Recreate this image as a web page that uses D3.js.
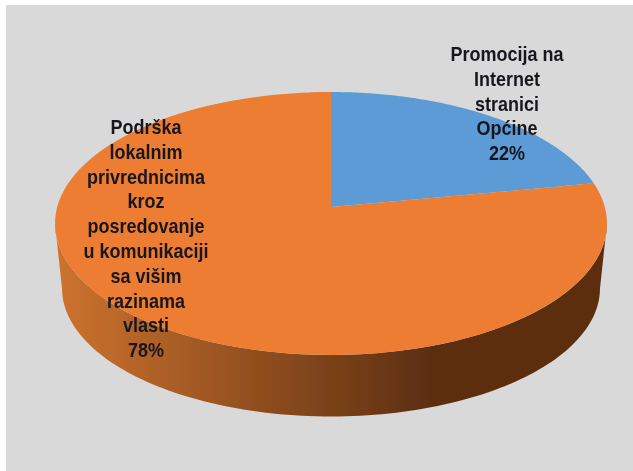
<!DOCTYPE html>
<meta charset="utf-8">
<style>
  html, body { margin: 0; background: #ffffff; }
  svg { display: block; }
  text { font-family: "Liberation Sans", sans-serif; font-size: 20px; font-weight: bold; fill: #17171f; text-anchor: middle; }
</style>
<script src="https://d3js.org/d3.v7.min.js"></script>
<div id="chart"></div>
<script>
// values
var categories = ["Promocija na Internet stranici Općine", "Podrška lokalnim privrednicima kroz posredovanje u komunikaciji sa višim razinama vlasti"];
var shares = [22, 78];
var colors = ["#5b9bd5", "#ed7d31"];
var labelLines = [
  ["Promocija na", "Internet", "stranici", "Općine"],
  ["Podrška", "lokalnim", "privrednicima", "kroz", "posredovanje", "u komunikaciji", "sa višim", "razinama", "vlasti"]
];

var width = 633, height = 471;

var svg = d3.select("#chart").append("svg")
  .attr("width", width)
  .attr("height", height);

var defs = svg.append("defs");

// the reference is a soft screenshot, so everything gets a little blur
defs.append("filter").attr("id", "soft")
  .append("feGaussianBlur").attr("stdDeviation", 0.55);

var grad = defs.append("linearGradient")
  .attr("id", "side")
  .attr("gradientUnits", "userSpaceOnUse")
  .attr("x1", 60).attr("x2", 430).attr("y1", 0).attr("y2", 0);
grad.append("stop").attr("offset", 0).attr("stop-color", "#cc722e");
grad.append("stop").attr("offset", 1).attr("stop-color", "#5c2f11");

svg.append("rect")
  .attr("x", 6).attr("y", 5)
  .attr("width", 627).attr("height", 466)
  .attr("fill", "#d9d9d9");

var g = svg.append("g").attr("filter", "url(#soft)");

// tilted disc: a circle seen in perspective, apex sits above the ellipse middle
var cx = 331, cy = 207, a = 273.8, b = 129.4, k = -0.1255;

function project(angle, r, dy) {
  var u = Math.sin(angle) * r;
  var v = -Math.cos(angle) * r;
  var w = 1 + k * v;
  return [cx + a * u / w, cy + dy + b * v / w];
}

function arcPoints(a0, a1, r, dy) {
  return d3.range(0, 121).map(function(i) {
    return project(a0 + (a1 - a0) * i / 120, r, dy);
  });
}

var line = d3.line();

// rim: front half of the top edge, down, and back along the bottom edge
var leftAngle = Math.PI * 1.5 - 0.126, rightAngle = Math.PI / 2 + 0.126;
var depth = 65.7, bottomScale = 0.975;
var rim = arcPoints(rightAngle, leftAngle, 1, 0)
  .concat(arcPoints(leftAngle, rightAngle, bottomScale, depth));

g.append("path")
  .attr("d", line(rim) + "Z")
  .attr("fill", "url(#side)");

var arcs = d3.pie().sort(null)(shares);

g.selectAll("path.slice")
  .data(arcs)
  .enter()
  .append("path")
  .attr("class", "slice")
  .attr("fill", function(d, i) { return colors[i]; })
  .attr("d", function(d) {
    return line([project(0, 0, 0)].concat(arcPoints(d.startAngle, d.endAngle, 1, 0))) + "Z";
  });

// data labels, squeezed sideways because the original face is a narrow one
var labelX = [507, 146], labelTop = [61, 134], lineHeight = 24.8, squeeze = 0.9;

labelLines.forEach(function(lines, i) {
  var all = lines.concat([shares[i] + "%"]);
  g.append("g")
    .attr("transform", "translate(" + labelX[i] + "," + labelTop[i] + ") scale(" + squeeze + ",1)")
    .selectAll("text")
    .data(all)
    .enter()
    .append("text")
    .attr("y", function(d, j) { return j * lineHeight; })
    .text(function(d) { return d; });
});
</script>
